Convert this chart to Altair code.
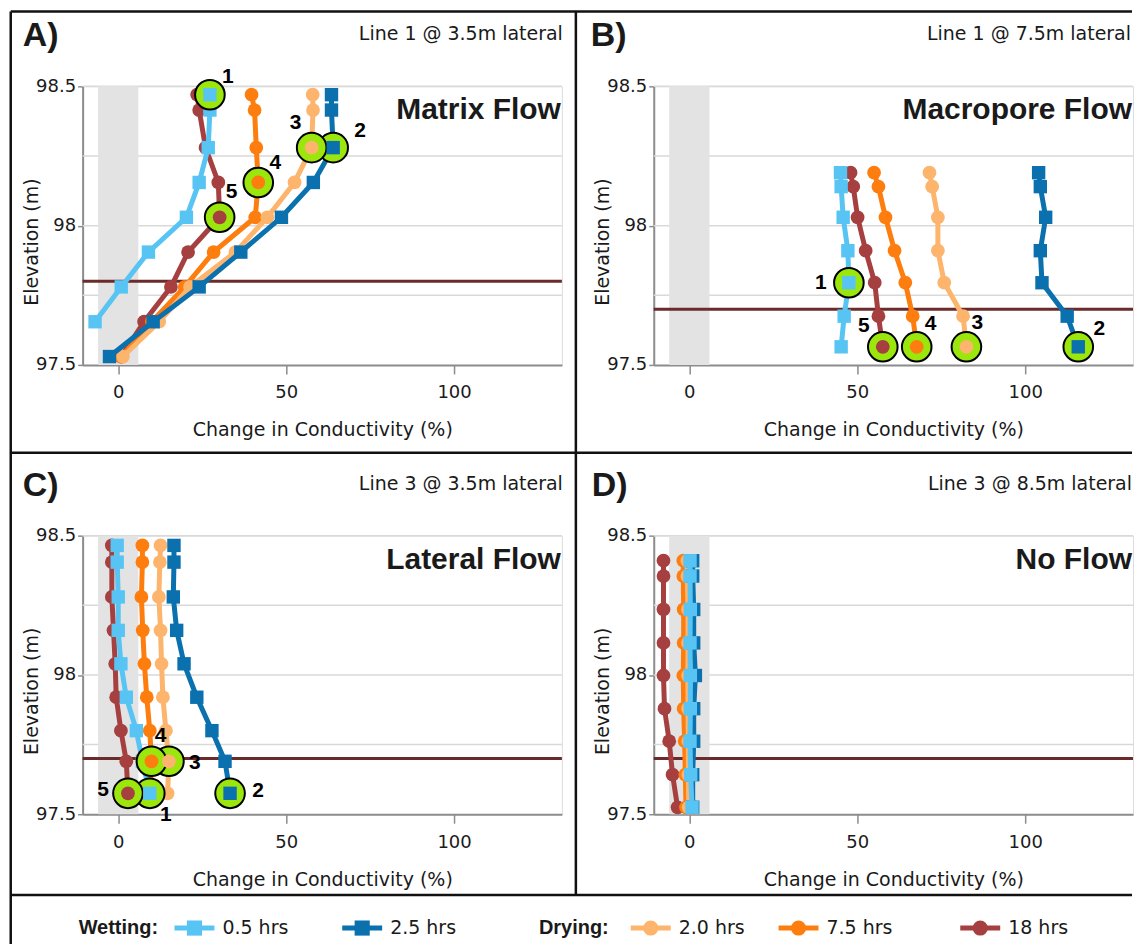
import altair as alt
import pandas as pd

FONT = "DejaVu Sans"
BOLD_FONT = "Liberation Sans"

# ---------------- data ----------------
SERIES = ["0.5 hrs", "2.5 hrs", "2.0 hrs", "7.5 hrs", "18 hrs"]
COLORS = ["#58C4F4", "#0A70AE", "#FDB46C", "#FD7E0F", "#A63F3F"]
SHAPES = ["square", "square", "circle", "circle", "circle"]
DRAW_ORDER = ["18 hrs", "7.5 hrs", "2.0 hrs", "2.5 hrs", "0.5 hrs"]

GRID_VALUES = [97.75, 98.0, 98.25, 98.5]
BAND = [-6.0, 6.0]

# Panel A - Line 1 @ 3.5m lateral (Matrix Flow)
a_elev = [98.47, 98.415, 98.28, 98.155, 98.03, 97.905, 97.78, 97.655, 97.53]
a_w05 = [27.3, 27.3, 26.8, 24.1, 20.3, 9.0, 0.9, -6.9, None]
a_w25 = [63.5, 63.5, 64.0, 58.1, 48.6, 36.5, 24.1, 10.4, -2.6]
a_d20 = [57.9, 58.0, 57.6, 52.5, 44.4, 34.9, 21.4, 12.2, 1.4]
a_d75 = [39.7, 40.6, 41.1, 41.7, 40.8, 28.4, 19.8, 10.0, 0.9]
a_d18 = [23.5, 24.1, 26.0, 29.8, 30.2, 20.8, 15.7, 7.7, 0.9]
a_hl_series = ["0.5 hrs", "2.5 hrs", "2.0 hrs", "7.5 hrs", "18 hrs"]
a_hl_index = [0, 2, 2, 3, 4]
a_hl_label = ["1", "2", "3", "4", "5"]
a_table = 97.8

# Panel B - Line 1 @ 7.5m lateral (Macropore Flow)
b_elev = [98.19, 98.14, 98.03, 97.91, 97.795, 97.675, 97.565]
b_w05 = [45.0, 45.2, 45.8, 47.2, 47.5, 46.1, 45.2]
b_w25 = [104.0, 104.5, 106.1, 104.5, 105.0, 112.5, 115.8]
b_d20 = [71.5, 72.3, 74.0, 74.0, 75.9, 81.5, 82.5]
b_d75 = [55.0, 56.3, 58.4, 61.1, 64.3, 66.5, 67.7]
b_d18 = [48.0, 48.8, 50.1, 52.5, 55.2, 56.3, 57.6]
b_hl_series = ["0.5 hrs", "2.5 hrs", "2.0 hrs", "7.5 hrs", "18 hrs"]
b_hl_index = [4, 6, 6, 6, 6]
b_hl_label = ["1", "2", "3", "4", "5"]
b_table = 97.7

# Panel C - Line 3 @ 3.5m lateral (Lateral Flow)
c_elev = [98.465, 98.405, 98.28, 98.16, 98.04, 97.92, 97.80, 97.69, 97.575]
c_w05 = [-0.3, -0.3, 0.0, 0.0, 0.8, 2.4, 5.4, 7.2, 9.4]
c_w25 = [16.6, 16.6, 16.4, 17.4, 19.6, 23.4, 27.9, 31.8, 33.3]
c_d20 = [12.6, 12.4, 12.1, 12.6, 12.9, 13.3, 14.2, 15.1, 14.7]
c_d75 = [7.2, 7.2, 6.9, 7.3, 7.8, 8.5, 9.4, 9.9, 9.5]
c_d18 = [-1.9, -1.9, -1.9, -1.4, -0.9, -0.6, 0.8, 2.4, 2.9]
c_hl_series = ["0.5 hrs", "2.5 hrs", "2.0 hrs", "7.5 hrs", "18 hrs"]
c_hl_index = [8, 8, 7, 7, 8]
c_hl_label = ["1", "2", "3", "4", "5"]
c_table = 97.7

# Panel D - Line 3 @ 8.5m lateral (No Flow)
d_elev = [98.41, 98.355, 98.235, 98.115, 97.998, 97.879, 97.762, 97.642, 97.525]
d_w05 = [0.2, 0.2, 0.3, 0.2, 0.3, 0.3, 0.2, 0.4, 0.8]
d_w25 = [1.0, 1.0, 1.3, 1.3, 1.8, 1.3, 1.3, 1.0, 1.0]
d_d20 = [-0.6, -0.6, -0.4, -0.4, -0.4, -0.4, -0.3, -0.3, -0.2]
d_d75 = [-1.8, -1.8, -1.7, -1.7, -1.8, -1.7, -1.4, -1.2, -1.0]
d_d18 = [-7.7, -7.7, -7.7, -7.7, -7.7, -7.4, -6.0, -5.0, -3.5]
d_table = 97.7

panel_letters = ["A)", "B)", "C)", "D)"]
panel_subtitles = ["Line 1 @ 3.5m lateral", "Line 1 @ 7.5m lateral",
                   "Line 3 @ 3.5m lateral", "Line 3 @ 8.5m lateral"]
panel_flows = ["Matrix Flow", "Macropore Flow", "Lateral Flow", "No Flow"]

legend_groups = ["Wetting:", "Drying:"]

# ---------------- styling ----------------
W, H = 480, 279
XDOM = [-10.6, 132.1]
YDOM = [97.5, 98.5]
COLOR = dict(zip(SERIES, COLORS))
SHAPE = dict(zip(SERIES, SHAPES))
SIZE = {"square": 180, "circle": 190}
HL_FILL = "#9BE60C"
TEXT_COLOR = "#1a1a1a"
AXIS_GREY = "#8c8c8c"

X_AXIS = alt.Axis(values=[0, 50, 100], title="Change in Conductivity (%)", grid=False,
                  tickSize=9, tickWidth=1.5, tickColor=AXIS_GREY, domainColor=AXIS_GREY,
                  domainWidth=2, labelFontSize=18, labelPadding=24, labelBaseline="alphabetic",
                  labelFont=FONT, labelColor=TEXT_COLOR, titleFont=FONT, titleFontSize=19,
                  titleFontWeight="normal", titleColor=TEXT_COLOR,
                  titleBaseline="alphabetic", titleY=71)
Y_AXIS = alt.Axis(values=[97.5, 98.0, 98.5], format=".1~f", title="Elevation (m)", grid=False,
                  tickSize=5, tickWidth=1.5, tickColor=AXIS_GREY, domainColor=AXIS_GREY,
                  domainWidth=2, labelFontSize=18, labelPadding=2, labelFont=FONT,
                  labelColor=TEXT_COLOR, titleFont=FONT, titleFontSize=19,
                  titleFontWeight="normal", titleColor=TEXT_COLOR,
                  titleAngle=270, titleBaseline="alphabetic", titleAlign="center",
                  titleX=-45, titleY=H / 2 + 16)


def xenc(field):
    return alt.X(field, type="quantitative",
                 scale=alt.Scale(domain=XDOM, nice=False, zero=False), axis=X_AXIS)


def yenc(field):
    return alt.Y(field, type="quantitative",
                 scale=alt.Scale(domain=YDOM, nice=False, zero=False), axis=Y_AXIS)


def panel_df(elev, cols):
    rows = []
    for s, vals in zip(SERIES, cols):
        for i, (e, v) in enumerate(zip(elev, vals)):
            if v is None:
                continue
            rows.append({"series": s, "elev": e, "value": v, "idx": i})
    return pd.DataFrame(rows)


ONE = pd.DataFrame({"k": [0]})


def text_layer(txt, x, y, size, weight="normal", align="left", baseline="alphabetic",
               font=FONT):
    return alt.Chart(pd.DataFrame({"t": [txt]})).mark_text(
        font=font, fontSize=size, fontWeight=weight, align=align, baseline=baseline,
        color=TEXT_COLOR).encode(text="t:N", x=alt.value(x), y=alt.value(y))


def make_panel(k, elev, cols, table, hl=None, offsets=None, letter_x=-60, sub_x=W, flow_x=W - 2,
               extra=None):
    df = panel_df(elev, cols)
    layers = [
        alt.Chart(pd.DataFrame({"g": GRID_VALUES})).mark_rule(color="#d9d9d9", strokeWidth=1.5)
        .encode(y=yenc("g")),
        alt.Chart(pd.DataFrame({"lo": [BAND[0]], "hi": [BAND[1]]})).mark_rect(color="#e3e3e3")
        .encode(x=xenc("lo"), x2="hi"),
        alt.Chart(pd.DataFrame({"t": [table]})).mark_rule(color="#6b2b2b", strokeWidth=3)
        .encode(y=yenc("t")),
    ]
    for s in DRAW_ORDER:
        sd = df[df.series == s]
        layers.append(alt.Chart(sd).mark_line(color=COLOR[s], strokeWidth=5)
                      .encode(x=xenc("value"), y=yenc("elev"), order="idx:Q"))
        layers.append(alt.Chart(sd).mark_point(shape=SHAPE[s], filled=True, opacity=1,
                                               size=SIZE[SHAPE[s]], color=COLOR[s])
                      .encode(x=xenc("value"), y=yenc("elev")))
    if hl is not None:
        hs, hi, hlab = hl
        rows = []
        for s, i, lab in zip(hs, hi, hlab):
            vals = cols[SERIES.index(s)]
            rows.append({"series": s, "elev": elev[i], "value": vals[i], "label": lab})
        hdf = pd.DataFrame(rows)
        layers.append(alt.Chart(hdf).mark_circle(size=880, color=HL_FILL, stroke="#000000",
                                                 strokeWidth=2, opacity=1)
                      .encode(x=xenc("value"), y=yenc("elev")))
        for r in rows:
            one = pd.DataFrame([r])
            layers.append(alt.Chart(one).mark_point(shape=SHAPE[r["series"]], filled=True,
                                                    opacity=1, size=SIZE[SHAPE[r["series"]]],
                                                    color=COLOR[r["series"]])
                          .encode(x=xenc("value"), y=yenc("elev")))
            dx, dy = offsets[r["label"]]
            layers.append(alt.Chart(one).mark_text(font=BOLD_FONT, fontSize=21,
                                                   fontWeight="bold", color="#000000",
                                                   dx=dx, dy=dy, align="center",
                                                   baseline="middle")
                          .encode(x=xenc("value"), y=yenc("elev"), text="label:N"))
    layers.append(text_layer(panel_letters[k], letter_x, -40, 34, "bold", font=BOLD_FONT))
    layers.append(text_layer(panel_subtitles[k], sub_x, -46, 19, align="right"))
    layers.append(text_layer(panel_flows[k], flow_x, 33, 30, "bold", align="right",
                             font=BOLD_FONT))
    if extra:
        layers.extend(extra)
    return alt.layer(*layers).properties(width=W, height=H)


# figure frame (drawn relative to panel A's plot area)
def hrule(y, x0, x1, w=2.5):
    return alt.Chart(ONE).mark_rule(color="#111111", strokeWidth=w).encode(
        x=alt.value(x0), x2=alt.value(x1), y=alt.value(y))


def vrule(x, y0, y1, w=2.5):
    return alt.Chart(ONE).mark_rule(color="#111111", strokeWidth=w).encode(
        x=alt.value(x), y=alt.value(y0), y2=alt.value(y1))


frame = [
    vrule(-72, -75, 859),
    hrule(-75, -72, 1051),
    vrule(494, -75, 810),
    hrule(367, -72, 1051),
    hrule(810, -72, 1051),
]

# legend (drawn relative to panel C's plot area)
LY = 393
leg_centers = [112, 280, 569, 717, 899]
legend_layers = [
    text_layer(legend_groups[0], -4, LY, 20, "bold", baseline="middle", font=BOLD_FONT),
    text_layer(legend_groups[1], 457, LY, 20, "bold", baseline="middle", font=BOLD_FONT),
]
for s, cx in zip(SERIES, leg_centers):
    legend_layers.append(alt.Chart(ONE).mark_rule(color=COLOR[s], strokeWidth=5).encode(
        x=alt.value(cx - 20), x2=alt.value(cx + 20), y=alt.value(LY)))
    legend_layers.append(alt.Chart(ONE).mark_point(shape=SHAPE[s], filled=True, opacity=1,
                                                   size=230, color=COLOR[s]).encode(
        x=alt.value(cx), y=alt.value(LY)))
    legend_layers.append(text_layer(s, cx + 28, LY, 19, baseline="middle"))

A = make_panel(0, a_elev, [a_w05, a_w25, a_d20, a_d75, a_d18], a_table,
               hl=(a_hl_series, a_hl_index, a_hl_label),
               offsets={"1": (18, -18), "2": (27, -17), "3": (-16, -25), "4": (17, -19),
                        "5": (12, -25)},
               letter_x=-60, sub_x=481, flow_x=479, extra=frame)
B = make_panel(1, b_elev, [b_w05, b_w25, b_d20, b_d75, b_d18], b_table,
               hl=(b_hl_series, b_hl_index, b_hl_label),
               offsets={"1": (-28, 0), "2": (21, -18), "3": (11, -24), "4": (14, -23),
                        "5": (-19, -21)},
               letter_x=-63, sub_x=478, flow_x=479)
C = make_panel(2, c_elev, [c_w05, c_w25, c_d20, c_d75, c_d18], c_table,
               hl=(c_hl_series, c_hl_index, c_hl_label),
               offsets={"1": (16, 22), "2": (28, -2), "3": (26, 2), "4": (9, -25),
                        "5": (-25, -3)},
               letter_x=-60, sub_x=481, flow_x=479, extra=legend_layers)
D = make_panel(3, d_elev, [d_w05, d_w25, d_d20, d_d75, d_d18], d_table,
               letter_x=-62, sub_x=479, flow_x=479)

chart = alt.concat(A, B, C, D, columns=2, spacing={"row": 171, "column": 92},
                   bounds="flush").properties(
    padding={"left": 8.75, "top": 8.75, "right": 0, "bottom": 0}
).configure_view(stroke=None).configure(background="white", font=FONT)

chart.save("out.html", embed_options={"renderer": "svg", "actions": False})
